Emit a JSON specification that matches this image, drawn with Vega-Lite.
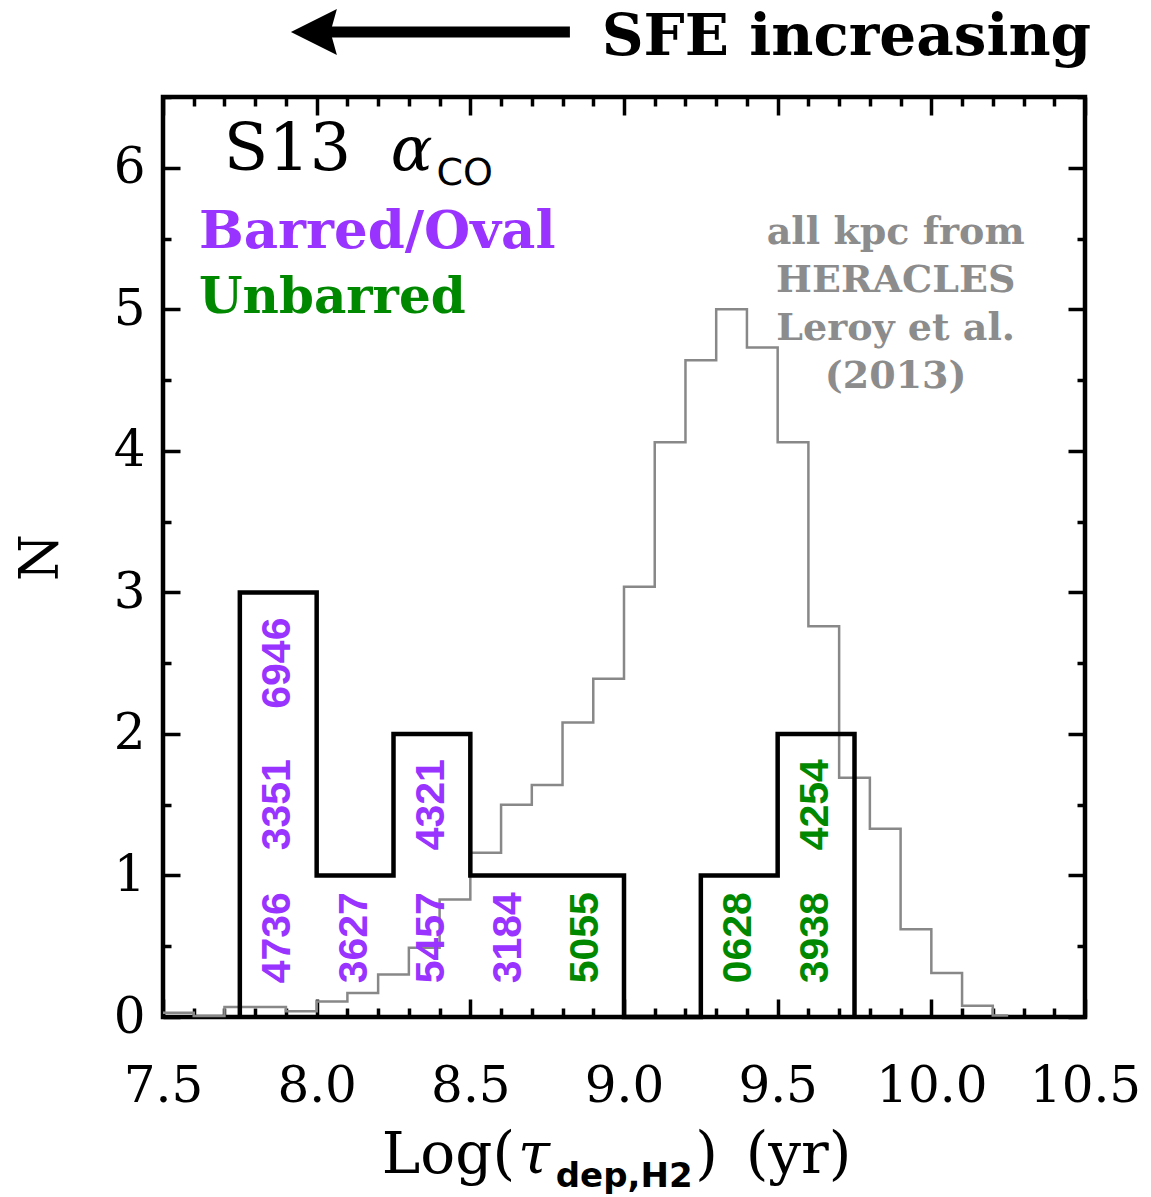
{
  "$schema": "https://vega.github.io/schema/vega-lite/v6.json",
  "width": 922,
  "height": 920,
  "autosize": {"type": "none"},
  "padding": {"left": 163, "top": 97, "right": 66, "bottom": 180},
  "background": "white",
  "config": {
    "view": {"stroke": "black", "strokeWidth": 4.5},
    "axis": {"domain": false, "grid": false, "tickColor": "black", "tickWidth": 3.5, "labelFont": "DejaVu Serif", "labelFontSize": 50, "labelColor": "black", "labelOverlap": false, "labelFlush": false, "labelBound": false}
  },
  "datasets": {
    "heracles": [
      {"i": 0, "x": 7.5, "n": 0.03},
      {"i": 1, "x": 7.6, "n": 0.007},
      {"i": 2, "x": 7.7, "n": 0.07},
      {"i": 3, "x": 7.8, "n": 0.07},
      {"i": 4, "x": 7.9, "n": 0.04},
      {"i": 5, "x": 8.0, "n": 0.11},
      {"i": 6, "x": 8.1, "n": 0.17},
      {"i": 7, "x": 8.2, "n": 0.30},
      {"i": 8, "x": 8.3, "n": 0.49},
      {"i": 9, "x": 8.4, "n": 0.83},
      {"i": 10, "x": 8.5, "n": 1.16},
      {"i": 11, "x": 8.6, "n": 1.50},
      {"i": 12, "x": 8.7, "n": 1.64},
      {"i": 13, "x": 8.8, "n": 2.08},
      {"i": 14, "x": 8.9, "n": 2.39},
      {"i": 15, "x": 9.0, "n": 3.04},
      {"i": 16, "x": 9.1, "n": 4.06},
      {"i": 17, "x": 9.2, "n": 4.64},
      {"i": 18, "x": 9.3, "n": 5.0},
      {"i": 19, "x": 9.4, "n": 4.73},
      {"i": 20, "x": 9.5, "n": 4.06},
      {"i": 21, "x": 9.6, "n": 2.76},
      {"i": 22, "x": 9.7, "n": 1.69},
      {"i": 23, "x": 9.8, "n": 1.33},
      {"i": 24, "x": 9.9, "n": 0.62},
      {"i": 25, "x": 10.0, "n": 0.31},
      {"i": 26, "x": 10.1, "n": 0.08},
      {"i": 27, "x": 10.2, "n": 0.01},
      {"i": 28, "x": 10.25, "n": 0.01}
    ],
    "hist": [
      {"i": 0, "x": 7.75, "n": 0},
      {"i": 1, "x": 7.75, "n": 3},
      {"i": 2, "x": 8.0, "n": 1},
      {"i": 3, "x": 8.25, "n": 2},
      {"i": 4, "x": 8.5, "n": 1},
      {"i": 5, "x": 9.0, "n": 0},
      {"i": 6, "x": 9.25, "n": 1},
      {"i": 7, "x": 9.5, "n": 2},
      {"i": 8, "x": 9.75, "n": 0}
    ],
    "galaxies": [
      {"name": "4736", "x": 7.875, "n": 0.56, "type": "Barred/Oval"},
      {"name": "3351", "x": 7.875, "n": 1.5, "type": "Barred/Oval"},
      {"name": "6946", "x": 7.875, "n": 2.5, "type": "Barred/Oval"},
      {"name": "3627", "x": 8.125, "n": 0.56, "type": "Barred/Oval"},
      {"name": "5457", "x": 8.375, "n": 0.56, "type": "Barred/Oval"},
      {"name": "4321", "x": 8.375, "n": 1.5, "type": "Barred/Oval"},
      {"name": "3184", "x": 8.625, "n": 0.56, "type": "Barred/Oval"},
      {"name": "5055", "x": 8.875, "n": 0.56, "type": "Unbarred"},
      {"name": "0628", "x": 9.375, "n": 0.56, "type": "Unbarred"},
      {"name": "3938", "x": 9.625, "n": 0.56, "type": "Unbarred"},
      {"name": "4254", "x": 9.625, "n": 1.5, "type": "Unbarred"}
    ],
    "one": [{}]
  },
  "layer": [
    {
      "data": {"name": "heracles"},
      "mark": {"type": "line", "interpolate": "step-after", "color": "#888888", "strokeWidth": 2.5},
      "encoding": {
        "x": {"field": "x", "type": "quantitative", "scale": {"domain": [7.5, 10.5], "nice": false, "zero": false},
          "axis": {"orient": "bottom", "title": null,
            "values": [7.5,7.6,7.7,7.8,7.9,8.0,8.1,8.2,8.3,8.4,8.5,8.6,8.7,8.8,8.9,9.0,9.1,9.2,9.3,9.4,9.5,9.6,9.7,9.8,9.9,10.0,10.1,10.2,10.3,10.4,10.5],
            "labelExpr": "abs(datum.value*2-round(datum.value*2))<0.001 ? format(datum.value,'.1f') : ''",
            "tickSize": {"condition": {"test": "abs(datum.value*2-round(datum.value*2))<0.001", "value": -18}, "value": -9},
            "labelPadding": 62}},
        "y": {"field": "n", "type": "quantitative", "scale": {"domain": [0, 6.5], "nice": false, "zero": false},
          "axis": {"orient": "left", "title": "N", "titleFont": "DejaVu Serif", "titleFontSize": 54, "titleFontWeight": "normal", "titleColor": "black", "titlePadding": 45,
            "values": [0,0.5,1,1.5,2,2.5,3,3.5,4,4.5,5,5.5,6,6.5],
            "labelExpr": "abs(datum.value-round(datum.value))<0.001 ? format(datum.value,'d') : ''",
            "tickSize": {"condition": {"test": "abs(datum.value-round(datum.value))<0.001", "value": -17}, "value": -8},
            "labelPadding": 35}},
        "order": {"field": "i", "type": "quantitative"}
      }
    },
    {
      "data": {"name": "hist"},
      "mark": {"type": "line", "interpolate": "step-after", "color": "black", "strokeWidth": 4.5},
      "encoding": {
        "x": {"field": "x", "type": "quantitative",
          "axis": {"orient": "top", "title": null, "labels": false,
            "values": [7.5,7.6,7.7,7.8,7.9,8.0,8.1,8.2,8.3,8.4,8.5,8.6,8.7,8.8,8.9,9.0,9.1,9.2,9.3,9.4,9.5,9.6,9.7,9.8,9.9,10.0,10.1,10.2,10.3,10.4,10.5],
            "tickSize": {"condition": {"test": "abs(datum.value*2-round(datum.value*2))<0.001", "value": -18}, "value": -9}}},
        "y": {"field": "n", "type": "quantitative",
          "axis": {"orient": "right", "title": null, "labels": false,
            "values": [0,0.5,1,1.5,2,2.5,3,3.5,4,4.5,5,5.5,6,6.5],
            "tickSize": {"condition": {"test": "abs(datum.value-round(datum.value))<0.001", "value": -17}, "value": -8}}},
        "order": {"field": "i", "type": "quantitative"}
      }
    },
    {
      "data": {"name": "galaxies"},
      "mark": {"type": "text", "angle": 270, "align": "center", "baseline": "middle", "font": "Liberation Sans", "fontWeight": "bold", "fontSize": 41},
      "encoding": {
        "x": {"field": "x", "type": "quantitative", "axis": null},
        "y": {"field": "n", "type": "quantitative", "axis": null},
        "text": {"field": "name"},
        "color": {"field": "type", "type": "nominal", "scale": {"domain": ["Barred/Oval", "Unbarred"], "range": ["#9933FF", "#008800"]}, "legend": null}
      }
    },
    {
      "data": {"name": "one"},
      "mark": {"type": "text", "text": "S13", "align": "left", "baseline": "alphabetic", "font": "DejaVu Serif", "fontSize": 65, "color": "black"},
      "encoding": {"x": {"datum": 7.698, "type": "quantitative", "axis": null}, "y": {"datum": 5.986, "type": "quantitative", "axis": null}}
    },
    {
      "data": {"name": "one"},
      "mark": {"type": "text", "text": "α", "align": "left", "baseline": "alphabetic", "font": "DejaVu Serif", "fontStyle": "italic", "fontSize": 62, "color": "black"},
      "encoding": {"x": {"datum": 8.241, "type": "quantitative", "axis": null}, "y": {"datum": 5.986, "type": "quantitative", "axis": null}}
    },
    {
      "data": {"name": "one"},
      "mark": {"type": "text", "text": "CO", "align": "left", "baseline": "alphabetic", "font": "DejaVu Sans", "fontSize": 38, "color": "black"},
      "encoding": {"x": {"datum": 8.39, "type": "quantitative", "axis": null}, "y": {"datum": 5.88, "type": "quantitative", "axis": null}}
    },
    {
      "data": {"name": "one"},
      "mark": {"type": "text", "text": "Barred/Oval", "align": "left", "baseline": "alphabetic", "font": "DejaVu Serif", "fontWeight": "bold", "fontSize": 53, "color": "#9933FF"},
      "encoding": {"x": {"datum": 7.617, "type": "quantitative", "axis": null}, "y": {"datum": 5.435, "type": "quantitative", "axis": null}}
    },
    {
      "data": {"name": "one"},
      "mark": {"type": "text", "text": "Unbarred", "align": "left", "baseline": "alphabetic", "font": "DejaVu Serif", "fontWeight": "bold", "fontSize": 50, "color": "#008800"},
      "encoding": {"x": {"datum": 7.617, "type": "quantitative", "axis": null}, "y": {"datum": 4.975, "type": "quantitative", "axis": null}}
    },
    {
      "data": {"name": "one"},
      "mark": {"type": "text", "text": ["all kpc from", "HERACLES", "Leroy et al.", "(2013)"], "lineHeight": 48, "align": "center", "baseline": "top", "font": "DejaVu Serif", "fontWeight": "bold", "fontSize": 38, "color": "#8C8C8C"},
      "encoding": {"x": {"datum": 9.884, "type": "quantitative", "axis": null}, "y": {"datum": 5.675, "type": "quantitative", "axis": null}}
    },
    {
      "data": {"name": "one"},
      "mark": {"type": "text", "text": "SFE increasing", "align": "right", "baseline": "alphabetic", "font": "DejaVu Serif", "fontWeight": "bold", "fontSize": 58, "color": "black"},
      "encoding": {"x": {"datum": 10.52, "type": "quantitative", "axis": null}, "y": {"datum": 6.8, "type": "quantitative", "axis": null}}
    },
    {
      "data": {"name": "one"},
      "mark": {"type": "rule", "strokeWidth": 11, "color": "black"},
      "encoding": {"x": {"datum": 8.04, "type": "quantitative", "axis": null}, "x2": {"datum": 8.824}, "y": {"datum": 6.96, "type": "quantitative", "axis": null}}
    },
    {
      "data": {"name": "one"},
      "mark": {"type": "point", "shape": "M -1 0 L 1 -1 L 0.72 0 L 1 1 Z", "filled": true, "color": "black", "opacity": 1, "size": 2116},
      "encoding": {"x": {"datum": 7.991, "type": "quantitative", "axis": null}, "y": {"datum": 6.96, "type": "quantitative", "axis": null}}
    },
    {
      "data": {"name": "one"},
      "mark": {"type": "text", "text": "Log(", "align": "left", "baseline": "alphabetic", "font": "DejaVu Serif", "fontSize": 58, "color": "black"},
      "encoding": {"x": {"datum": 8.212, "type": "quantitative", "axis": null}, "y": {"datum": -1.1, "type": "quantitative", "axis": null}}
    },
    {
      "data": {"name": "one"},
      "mark": {"type": "text", "text": "τ", "align": "left", "baseline": "alphabetic", "font": "DejaVu Serif", "fontStyle": "italic", "fontSize": 58, "color": "black"},
      "encoding": {"x": {"datum": 8.655, "type": "quantitative", "axis": null}, "y": {"datum": -1.1, "type": "quantitative", "axis": null}}
    },
    {
      "data": {"name": "one"},
      "mark": {"type": "text", "text": "dep,H2", "align": "left", "baseline": "alphabetic", "font": "DejaVu Sans", "fontWeight": "bold", "fontSize": 34, "color": "black"},
      "encoding": {"x": {"datum": 8.778, "type": "quantitative", "axis": null}, "y": {"datum": -1.2, "type": "quantitative", "axis": null}}
    },
    {
      "data": {"name": "one"},
      "mark": {"type": "text", "text": ")", "align": "left", "baseline": "alphabetic", "font": "DejaVu Serif", "fontSize": 58, "color": "black"},
      "encoding": {"x": {"datum": 9.232, "type": "quantitative", "axis": null}, "y": {"datum": -1.1, "type": "quantitative", "axis": null}}
    },
    {
      "data": {"name": "one"},
      "mark": {"type": "text", "text": "(yr)", "align": "left", "baseline": "alphabetic", "font": "DejaVu Serif", "fontSize": 58, "color": "black"},
      "encoding": {"x": {"datum": 9.396, "type": "quantitative", "axis": null}, "y": {"datum": -1.1, "type": "quantitative", "axis": null}}
    }
  ],
  "resolve": {"axis": {"x": "independent", "y": "independent"}}
}
